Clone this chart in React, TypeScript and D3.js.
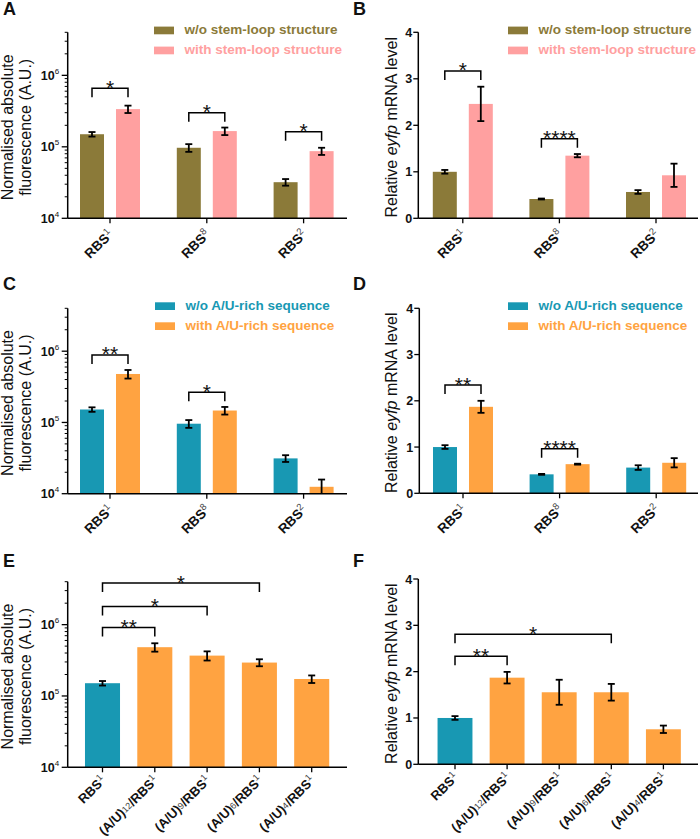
import React from "react";
import * as d3 from "d3";

const FONT = "'Liberation Sans', Arial, Helvetica, sans-serif";

// ---------- categories ----------
const rbsNumbers = ["1", "8", "2"]; // RBS1, RBS8, RBS2
const auNumbers = ["", "12", "9", "6", "4"]; // RBS1, (A/U)12/RBS1, ...

const seriesStemLoop = ["w/o stem-loop structure", "with stem-loop structure"];
const seriesAU = ["w/o A/U-rich sequence", "with A/U-rich sequence"];

// ---------- Panel A (fluorescence, stem-loop) ----------
const aWithout = [1.5e5, 9.7e4, 3.2e4];
const aWithoutErr = [1.1e4, 1.2e4, 3.4e3];
const aWith = [3.37e5, 1.66e5, 8.7e4];
const aWithErr = [4.0e4, 2.0e4, 1.0e4];
const aSig = ["*", "*", "*"];
const aSigLevel = [6.6e5, 3.0e5, 1.63e5];

// ---------- Panel B (mRNA, stem-loop) ----------
const bWithout = [1.0, 0.415, 0.566];
const bWithoutErr = [0.04, 0.01, 0.04];
const bWith = [2.46, 1.347, 0.925];
const bWithErr = [0.37, 0.035, 0.25];
const bSig = ["*", "****", ""];
const bSigLevel = [3.17, 1.71, 0];

// ---------- Panel C (fluorescence, A/U-rich) ----------
const cWithout = [1.52e5, 9.6e4, 3.13e4];
const cWithoutErr = [1.1e4, 1.2e4, 3.4e3];
const cWith = [4.79e5, 1.47e5, 1.25e4];
const cWithErr = [6.6e4, 1.8e4, 3.3e3];
const cSig = ["**", "*", ""];
const cSigLevel = [8.87e5, 2.66e5, 0];

// ---------- Panel D (mRNA, A/U-rich) ----------
const dWithout = [1.0, 0.41, 0.556];
const dWithoutErr = [0.04, 0.01, 0.05];
const dWith = [1.87, 0.63, 0.66];
const dWithErr = [0.13, 0.01, 0.1];
const dSig = ["**", "****", ""];
const dSigLevel = [2.34, 0.965, 0];

// ---------- Panel E (fluorescence, A/U length) ----------
const eValues = [1.51e5, 4.83e5, 3.68e5, 2.94e5, 1.73e5];
const eErr = [1.1e4, 6.5e4, 5.4e4, 3.3e4, 2.1e4];
const eSigFrom = [0, 0, 0];
const eSigTo = [1, 2, 3];
const eSigLabel = ["**", "*", "*"];
const eSigLevel = [9.1e5, 1.8e6, 3.83e6];

// ---------- Panel F (mRNA, A/U length) ----------
const fValues = [1.0, 1.87, 1.555, 1.555, 0.756];
const fErr = [0.04, 0.125, 0.27, 0.18, 0.08];
const fSigFrom = [0, 0];
const fSigTo = [1, 3];
const fSigLabel = ["**", "*"];
const fSigLevel = [2.33, 2.81];

// ---------- ticks ----------
const logMajor = [1e4, 1e5, 1e6];
const logMinorMult = [2, 3, 4, 5, 6, 7, 8, 9];
const linTicks = [0, 1, 2, 3, 4];

// ---------- colours ----------
const OLIVE = "#8b7a39";
const PINK = "#ffa0a0";
const TEAL = "#1898b3";
const ORANGE = "#ffa341";

type Layout = {
  axisX: number;
  yTop: number;
  yBottom: number;
  xEnd: number;
  c0: number;
  step: number;
};

function makeY(log: boolean, L: Layout) {
  if (log) return d3.scaleLog().domain([1e4, 4e6]).range([L.yBottom, L.yTop]);
  return d3.scaleLinear().domain([0, 4]).range([L.yBottom, L.yTop]);
}

function YAxis({ log, L, y }: { log: boolean; L: Layout; y: any }) {
  const els: any[] = [];
  if (log) {
    logMajor.forEach((v, i) => {
      const yy = y(v);
      els.push(<line key={"M" + i} x1={L.axisX - 6} x2={L.axisX} y1={yy} y2={yy} stroke="#000" strokeWidth={1.3} />);
      els.push(
        <text key={"T" + i} x={L.axisX - 8.5} y={yy + 4.5} textAnchor="end" fontFamily={FONT} fontSize={12.5} fontWeight="bold" fill="#111">
          <tspan>10</tspan>
          <tspan fontSize={8} fontWeight="normal" dy={-6}>{Math.round(Math.log10(v))}</tspan>
        </text>
      );
      logMinorMult.forEach((m, j) => {
        const mv = m * v;
        if (mv <= 4e6) {
          const my = y(mv);
          els.push(<line key={"m" + i + "_" + j} x1={L.axisX - 3} x2={L.axisX} y1={my} y2={my} stroke="#000" strokeWidth={1} />);
        }
      });
    });
  } else {
    linTicks.forEach((v, i) => {
      const yy = y(v);
      els.push(<line key={"M" + i} x1={L.axisX - 5} x2={L.axisX} y1={yy} y2={yy} stroke="#000" strokeWidth={1.3} />);
      els.push(
        <text key={"T" + i} x={L.axisX - 6} y={yy + 4.5} textAnchor="end" fontFamily={FONT} fontSize={12.5} fontWeight="bold" fill="#111">
          {v}
        </text>
      );
    });
  }
  return (
    <g>
      <line x1={L.axisX} x2={L.axisX} y1={L.yTop} y2={L.yBottom} stroke="#000" strokeWidth={1.5} />
      <line x1={L.axisX} x2={L.xEnd} y1={L.yBottom} y2={L.yBottom} stroke="#000" strokeWidth={1.5} />
      {els}
    </g>
  );
}

function YTitle({ log, L, ox }: { log: boolean; L: Layout; ox: number }) {
  const cy = (L.yTop + L.yBottom) / 2 + 2;
  if (log) {
    return (
      <g fontFamily={FONT} fontSize={16} fill="#111">
        <text transform={`translate(${ox + 13},${cy}) rotate(-90)`} textAnchor="middle">Normalised absolute</text>
        <text transform={`translate(${ox + 31},${cy}) rotate(-90)`} textAnchor="middle">fluorescence (A.U.)</text>
      </g>
    );
  }
  return (
    <text transform={`translate(${ox + 46.5},${cy}) rotate(-90)`} textAnchor="middle" fontFamily={FONT} fontSize={16} fill="#111">
      <tspan>Relative </tspan>
      <tspan fontStyle="italic">eyfp</tspan>
      <tspan> mRNA level</tspan>
    </text>
  );
}

function XLabel({ x, y, au, n, size, off }: { x: number; y: number; au: string | null; n: string; size: number; off: number }) {
  const small = size * 0.7;
  return (
    <text transform={`translate(${x + 4},${y + off}) rotate(-45)`} textAnchor="end" fontFamily={FONT} fontSize={size} fontWeight="bold" fill="#111">
      {au ? (
        <>
          <tspan>(A/U)</tspan>
          <tspan fontSize={small} fontWeight="normal" fill="#444" dy={-1}>{au}</tspan>
          <tspan dy={1}>/RBS</tspan>
        </>
      ) : (
        <tspan>RBS</tspan>
      )}
      <tspan fontSize={small} fontWeight="normal" fill="#444" dy={-5}>{n}</tspan>
    </text>
  );
}

function ErrorBar({ x, y, v, e, yBottom }: { x: number; y: any; v: number; e: number; yBottom: number }) {
  const yt = y(v + e);
  const lo = v - e;
  const yb = Math.min(lo > 0 ? y(lo) : yBottom, yBottom);
  return (
    <g stroke="#000" strokeWidth={1.8}>
      <line x1={x} x2={x} y1={yt} y2={yb} />
      <line x1={x - 3.5} x2={x + 3.5} y1={yt} y2={yt} />
      {yb < yBottom - 0.5 && <line x1={x - 3.5} x2={x + 3.5} y1={yb} y2={yb} />}
    </g>
  );
}

function Bracket({ x1, x2, yy, label }: { x1: number; x2: number; yy: number; label: string }) {
  return (
    <g>
      <path d={`M${x1},${yy + 9}V${yy}H${x2}V${yy + 9}`} fill="none" stroke="#000" strokeWidth={1.5} />
      <text x={(x1 + x2) / 2} y={yy + 6.5} textAnchor="middle" fontFamily={FONT} fontSize={21} fill="#111">{label}</text>
    </g>
  );
}

function Legend({ x, y0, names, colors }: { x: number; y0: number; names: string[]; colors: string[] }) {
  return (
    <g>
      {names.map((nm, i) => (
        <g key={i}>
          <rect x={x} y={y0 + i * 20 - 7.7} width={20} height={7.7} fill={colors[i]} />
          <text x={x + 30.5} y={y0 + i * 20} fontFamily={FONT} fontSize={13.5} fontWeight="bold" fill={colors[i]}>{nm}</text>
        </g>
      ))}
    </g>
  );
}

function GroupedPanel(props: {
  letter: string; ox: number; oy: number; letterY: number; log: boolean; L: Layout;
  vals: number[][]; errs: number[][]; colors: string[]; names: string[];
  sig: string[]; sigLevel: number[]; legendX: number; legendY: number;
}) {
  const { letter, ox, letterY, log, L, vals, errs, colors, names, sig, sigLevel, legendX, legendY } = props;
  const y: any = makeY(log, L);
  const cats = rbsNumbers;
  const x0 = d3.scaleBand<string>().domain(cats).range([L.c0 - L.step / 2, L.c0 + (cats.length - 0.5) * L.step]).padding(0);
  const x1 = d3.scaleBand<number>().domain([0, 1]).range([-30, 30]).paddingInner(1 / 3);
  const center = (c: string) => (x0(c) as number) + x0.bandwidth() / 2;
  return (
    <g>
      <text x={ox + 3} y={letterY} fontFamily={FONT} fontSize={18} fontWeight="bold" fill="#111">{letter}</text>
      <YTitle log={log} L={L} ox={ox} />
      {cats.map((c, ci) =>
        [0, 1].map((s) => {
          const bx = center(c) + (x1(s) as number);
          const v = vals[s][ci];
          return (
            <g key={c + s}>
              <rect x={bx} y={y(v)} width={x1.bandwidth()} height={L.yBottom - y(v)} fill={colors[s]} />
            </g>
          );
        })
      )}
      <YAxis log={log} L={L} y={y} />
      {cats.map((c, ci) =>
        [0, 1].map((s) => {
          const bx = center(c) + (x1(s) as number) + x1.bandwidth() / 2;
          return <ErrorBar key={"e" + c + s} x={bx} y={y} v={vals[s][ci]} e={errs[s][ci]} yBottom={L.yBottom} />;
        })
      )}
      {cats.map((c) => (
        <g key={"t" + c}>
          <line x1={center(c)} x2={center(c)} y1={L.yBottom} y2={L.yBottom + 5} stroke="#000" strokeWidth={1.3} />
          <XLabel x={center(c)} y={L.yBottom} au={null} n={c} size={13.5} off={17} />
        </g>
      ))}
      {cats.map((c, ci) =>
        sig[ci] ? (
          <Bracket key={"b" + c} x1={center(c) + (x1(0) as number) + x1.bandwidth() / 2} x2={center(c) + (x1(1) as number) + x1.bandwidth() / 2} yy={y(sigLevel[ci])} label={sig[ci]} />
        ) : null
      )}
      <Legend x={legendX} y0={legendY} names={names} colors={colors} />
    </g>
  );
}

function SinglePanel(props: {
  letter: string; ox: number; letterY: number; log: boolean; L: Layout;
  vals: number[]; errs: number[]; sigFrom: number[]; sigTo: number[]; sigLabel: string[]; sigLevel: number[];
}) {
  const { letter, ox, letterY, log, L, vals, errs, sigFrom, sigTo, sigLabel, sigLevel } = props;
  const y: any = makeY(log, L);
  const idx = auNumbers.map((_, i) => String(i));
  const n = idx.length;
  const x = d3.scaleBand<string>().domain(idx).range([L.c0 - L.step / 2, L.c0 + (n - 0.5) * L.step]).paddingInner(0.33).paddingOuter(0.165);
  const center = (i: number) => (x(String(i)) as number) + x.bandwidth() / 2;
  return (
    <g>
      <text x={ox + 3} y={letterY} fontFamily={FONT} fontSize={18} fontWeight="bold" fill="#111">{letter}</text>
      <YTitle log={log} L={L} ox={ox} />
      {vals.map((v, i) => (
        <rect key={"r" + i} x={x(String(i))} y={y(v)} width={x.bandwidth()} height={L.yBottom - y(v)} fill={i === 0 ? TEAL : ORANGE} />
      ))}
      <YAxis log={log} L={L} y={y} />
      {vals.map((v, i) => (
        <ErrorBar key={"e" + i} x={center(i)} y={y} v={v} e={errs[i]} yBottom={L.yBottom} />
      ))}
      {auNumbers.map((a, i) => (
        <g key={"t" + i}>
          <line x1={center(i)} x2={center(i)} y1={L.yBottom} y2={L.yBottom + 5} stroke="#000" strokeWidth={1.3} />
          <XLabel x={center(i)} y={L.yBottom} au={a || null} n="1" size={13} off={14} />
        </g>
      ))}
      {sigFrom.map((f, k) => (
        <Bracket key={"b" + k} x1={center(f)} x2={center(sigTo[k])} yy={y(sigLevel[k])} label={sigLabel[k]} />
      ))}
    </g>
  );
}

export default function App() {
  const LA: Layout = { axisX: 67.7, yTop: 32.3, yBottom: 218.3, xEnd: 347, c0: 110, step: 96.8 };
  const LB: Layout = { axisX: 418.3, yTop: 32.3, yBottom: 218.3, xEnd: 698, c0: 462.8, step: 96.6 };
  const LC: Layout = { axisX: 67.7, yTop: 308.3, yBottom: 493.7, xEnd: 347, c0: 110, step: 96.8 };
  const LD: Layout = { axisX: 419.3, yTop: 308.3, yBottom: 493.3, xEnd: 698, c0: 463, step: 96.6 };
  const LE: Layout = { axisX: 67.7, yTop: 581.7, yBottom: 767.3, xEnd: 347, c0: 102.5, step: 52.3 };
  const LF: Layout = { axisX: 418.3, yTop: 579, yBottom: 764.3, xEnd: 698, c0: 455, step: 52.1 };
  return (
    <svg width={700} height={839} style={{ position: "absolute", left: 0, top: 0, background: "#fff" }}>
      <rect width={700} height={839} fill="#fff" />
      <GroupedPanel letter="A" ox={0} oy={0} letterY={15} log L={LA}
        vals={[aWithout, aWith]} errs={[aWithoutErr, aWithErr]} colors={[OLIVE, PINK]} names={seriesStemLoop}
        sig={aSig} sigLevel={aSigLevel} legendX={154} legendY={34.3} />
      <GroupedPanel letter="B" ox={350} oy={0} letterY={15} log={false} L={LB}
        vals={[bWithout, bWith]} errs={[bWithoutErr, bWithErr]} colors={[OLIVE, PINK]} names={seriesStemLoop}
        sig={bSig} sigLevel={bSigLevel} legendX={508} legendY={34.3} />
      <GroupedPanel letter="C" ox={0} oy={280} letterY={290} log L={LC}
        vals={[cWithout, cWith]} errs={[cWithoutErr, cWithErr]} colors={[TEAL, ORANGE]} names={seriesAU}
        sig={cSig} sigLevel={cSigLevel} legendX={155} legendY={310} />
      <GroupedPanel letter="D" ox={350} oy={280} letterY={290} log={false} L={LD}
        vals={[dWithout, dWith]} errs={[dWithoutErr, dWithErr]} colors={[TEAL, ORANGE]} names={seriesAU}
        sig={dSig} sigLevel={dSigLevel} legendX={508} legendY={310} />
      <SinglePanel letter="E" ox={0} letterY={567} log L={LE}
        vals={eValues} errs={eErr} sigFrom={eSigFrom} sigTo={eSigTo} sigLabel={eSigLabel} sigLevel={eSigLevel} />
      <SinglePanel letter="F" ox={350} letterY={567} log={false} L={LF}
        vals={fValues} errs={fErr} sigFrom={fSigFrom} sigTo={fSigTo} sigLabel={fSigLabel} sigLevel={fSigLevel} />
    </svg>
  );
}
